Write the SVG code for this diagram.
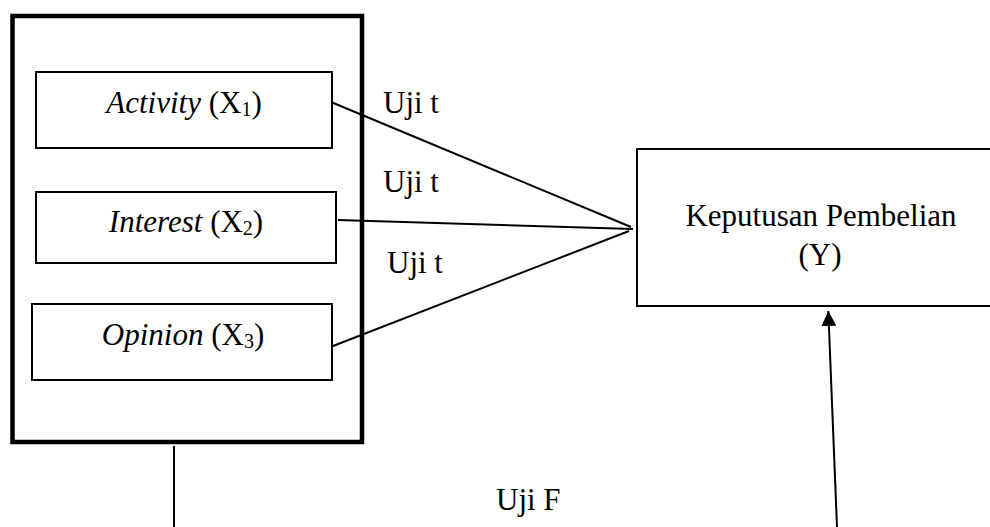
<svg xmlns="http://www.w3.org/2000/svg" width="990" height="527" viewBox="0 0 990 527">
<style>
text{font-family:"Liberation Serif","Times New Roman",serif;font-size:31px;fill:#000}
.box{fill:#fff;stroke:#000;stroke-width:2}
.ln{stroke:#000;stroke-width:2;fill:none}
.it{font-style:italic}
.sub{font-size:20px}
</style>
<defs>
<marker id="ah" markerWidth="16" markerHeight="15" refX="15" refY="7.5" orient="auto" markerUnits="userSpaceOnUse">
<path d="M0,0 L15,7.5 L0,15 Z" fill="#000"/>
</marker>
</defs>
<rect width="990" height="527" fill="#fff"/>
<g id="group-x">
<rect x="12.5" y="16" width="349.5" height="426" fill="none" stroke="#000" stroke-width="4.5"/>
</g>
<g id="connectors">
<line class="ln" x1="331" y1="102" x2="631" y2="227"/>
<line class="ln" x1="338" y1="220" x2="633" y2="229"/>
<line class="ln" x1="333" y1="346" x2="629" y2="231"/>
<line class="ln" x1="174" y1="446" x2="174" y2="527"/>
<line class="ln" x1="837" y1="527" x2="828.3" y2="311" marker-end="url(#ah)"/>
</g>
<g id="activity">
<rect class="box" x="36" y="72" width="296" height="76"/>
<text x="184" y="113" text-anchor="middle"><tspan class="it">Activity</tspan> (X<tspan class="sub" dy="3">1</tspan><tspan dy="-3">)</tspan></text>
</g>
<g id="interest">
<rect class="box" x="36" y="192" width="300" height="71"/>
<text x="186" y="232" text-anchor="middle"><tspan class="it">Interest</tspan> (X<tspan class="sub" dy="3">2</tspan><tspan dy="-3">)</tspan></text>
</g>
<g id="opinion">
<rect class="box" x="32" y="304" width="300" height="76"/>
<text x="183" y="345" text-anchor="middle"><tspan class="it">Opinion</tspan> (X<tspan class="sub" dy="3">3</tspan><tspan dy="-3">)</tspan></text>
</g>
<g id="keputusan">
<rect class="box" x="637" y="149" width="370" height="157"/>
<text x="821" y="226" text-anchor="middle">Keputusan Pembelian</text>
<text x="820" y="265" text-anchor="middle">(Y)</text>
</g>
<g id="labels">
<text x="383" y="113">Uji t</text>
<text x="383" y="192">Uji t</text>
<text x="387" y="273">Uji t</text>
<text x="496" y="510">Uji F</text>
</g>
</svg>
